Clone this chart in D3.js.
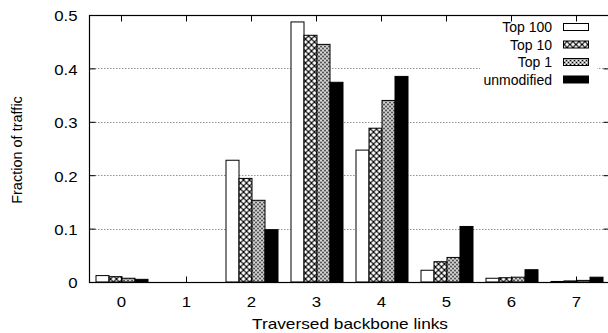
<!DOCTYPE html>
<html>
<head>
<meta charset="utf-8">
<script src="https://cdn.jsdelivr.net/npm/d3@7"></script>
<style>
  html, body { margin: 0; padding: 0; background: #fff; }
  svg { display: block; }
</style>
</head>
<body>
<script>
const categories = ["0", "1", "2", "3", "4", "5", "6", "7"];
const seriesNames = ["Top 100", "Top 10", "Top 1", "unmodified"];
const top100 = [0.012, 0, 0.228, 0.487, 0.247, 0.022, 0.007, 0.001];
const top10 = [0.010, 0, 0.194, 0.462, 0.288, 0.038, 0.008, 0.002];
const top1 = [0.007, 0, 0.153, 0.445, 0.340, 0.046, 0.009, 0.003];
const unmodified = [0.005, 0, 0.098, 0.374, 0.385, 0.104, 0.023, 0.009];
const yTicks = [0, 0.1, 0.2, 0.3, 0.4, 0.5];

const seriesValues = [top100, top10, top1, unmodified];
const fills = ["#ffffff", "url(#hatchTop10)", "url(#hatchTop1)", "#000000"];

const width = 608;
const height = 333;
const margin = { top: 15, right: -1, bottom: 51, left: 89 };
const font = "'Liberation Sans', Arial, Helvetica, sans-serif";

const svg = d3.select("body")
  .append("svg")
  .attr("width", width)
  .attr("height", height)
  .attr("viewBox", `0 0 ${width} ${height}`);

// fill patterns in the gnuplot style
const defs = svg.append("defs");
const p10 = defs.append("pattern")
  .attr("id", "hatchTop10")
  .attr("patternUnits", "userSpaceOnUse")
  .attr("width", 6)
  .attr("height", 6);
p10.append("rect").attr("width", 6).attr("height", 6).attr("fill", "#fff");
p10.append("path")
  .attr("d", "M0,0 L6,6 M6,0 L0,6")
  .attr("stroke", "#000")
  .attr("stroke-width", 1.2);

const p1 = defs.append("pattern")
  .attr("id", "hatchTop1")
  .attr("patternUnits", "userSpaceOnUse")
  .attr("width", 4)
  .attr("height", 4);
p1.append("rect").attr("width", 4).attr("height", 4).attr("fill", "#a8a8a8");
p1.append("rect").attr("x", 0).attr("y", 0).attr("width", 1).attr("height", 1).attr("fill", "#000");
p1.append("rect").attr("x", 2).attr("y", 2).attr("width", 1).attr("height", 1).attr("fill", "#000");
p1.append("rect").attr("x", 2).attr("y", 0).attr("width", 1).attr("height", 1).attr("fill", "#fff");
p1.append("rect").attr("x", 0).attr("y", 2).attr("width", 1).attr("height", 1).attr("fill", "#fff");

const x0 = d3.scaleBand()
  .domain(categories)
  .range([margin.left, width - margin.right])
  .paddingInner(0.2)
  .paddingOuter(0.1);

const x1 = d3.scaleBand()
  .domain(d3.range(seriesNames.length))
  .range([0, x0.bandwidth()]);

const y = d3.scaleLinear()
  .domain([0, 0.5])
  .range([height - margin.bottom, margin.top]);

const plotRight = width - margin.right;
const plotBottom = height - margin.bottom;

// grid
svg.append("g")
  .selectAll("line")
  .data(yTicks.filter((t) => t > 0 && t < 0.5))
  .join("line")
  .attr("x1", margin.left)
  .attr("x2", plotRight)
  .attr("y1", (d) => Math.round(y(d)) + 0.5)
  .attr("y2", (d) => Math.round(y(d)) + 0.5)
  .attr("stroke", "#777")
  .attr("stroke-width", 0.8)
  .attr("stroke-dasharray", "1.5,1.5");

// legend background hides the grid
svg.append("rect")
  .attr("x", 480)
  .attr("y", 18)
  .attr("width", 117)
  .attr("height", 70)
  .attr("fill", "#fff");

// bars
const groups = svg.append("g")
  .selectAll("g")
  .data(categories)
  .join("g")
  .attr("transform", (d) => `translate(${x0(d)},0)`);

groups.selectAll("rect")
  .data((d, i) => seriesValues.map((vals, s) => ({ s, v: vals[i] })))
  .join("rect")
  .attr("x", (d) => x1(d.s) + 0.5)
  .attr("y", (d) => y(d.v))
  .attr("width", x1.bandwidth())
  .attr("height", (d) => plotBottom - y(d.v))
  .attr("fill", (d) => fills[d.s])
  .attr("stroke", "#000")
  .attr("stroke-width", (d) => (d.v > 0 ? 1 : 0));

// frame
svg.append("rect")
  .attr("x", margin.left + 0.5)
  .attr("y", margin.top + 0.5)
  .attr("width", plotRight - margin.left)
  .attr("height", plotBottom - margin.top)
  .attr("fill", "none")
  .attr("stroke", "#000")
  .attr("stroke-width", 1.2);

// axes (the reference glyphs are a little wider than tall, hence scaleX)
const yAxis = svg.append("g")
  .attr("transform", `translate(${margin.left + 0.5},0)`)
  .call(d3.axisLeft(y).tickValues(yTicks).tickSize(-6).tickPadding(12)
    .tickFormat((d) => (d === 0 ? "0" : d3.format(".1f")(d))));
yAxis.select(".domain").remove();
yAxis.selectAll("text")
  .attr("font-family", font)
  .attr("font-size", 14)
  .attr("fill", "#000")
  .attr("x", -12 / 1.2)
  .attr("dy", "0.42em")
  .attr("transform", "scale(1.2,1)");

const yAxisR = svg.append("g")
  .attr("transform", `translate(${plotRight + 0.5},0)`)
  .call(d3.axisRight(y).tickValues(yTicks).tickSize(-6).tickFormat(""));
yAxisR.select(".domain").remove();

const xAxis = svg.append("g")
  .attr("transform", `translate(0,${plotBottom + 0.5})`)
  .call(d3.axisBottom(x0).tickSize(-6).tickPadding(15));
xAxis.select(".domain").remove();
xAxis.selectAll("text")
  .attr("font-family", font)
  .attr("font-size", 14)
  .attr("fill", "#000")
  .attr("transform", "scale(1.2,1)");

const xAxisTop = svg.append("g")
  .attr("transform", `translate(0,${margin.top + 0.5})`)
  .call(d3.axisTop(x0).tickSize(-6).tickFormat(""));
xAxisTop.select(".domain").remove();

// legend
const legend = svg.append("g")
  .selectAll("g")
  .data(seriesNames)
  .join("g")
  .attr("transform", (d, i) => `translate(0,${27 + i * 17.5})`);

legend.append("text")
  .attr("x", 552)
  .attr("y", 5)
  .attr("text-anchor", "end")
  .attr("font-family", font)
  .attr("font-size", 14)
  .text((d) => d);

legend.append("rect")
  .attr("x", 563.5)
  .attr("y", -3.5)
  .attr("width", 25)
  .attr("height", 7)
  .attr("fill", (d, i) => fills[i])
  .attr("stroke", "#000")
  .attr("stroke-width", 1);

// axis titles
svg.append("text")
  .attr("transform", "translate(22,150) rotate(-90)")
  .attr("text-anchor", "middle")
  .attr("font-family", font)
  .attr("font-size", 14.5)
  .text("Fraction of traffic");

svg.append("text")
  .attr("x", 350)
  .attr("y", 329)
  .attr("text-anchor", "middle")
  .attr("font-family", font)
  .attr("font-size", 15)
  .attr("textLength", 196)
  .attr("lengthAdjust", "spacingAndGlyphs")
  .text("Traversed backbone links");
</script>
</body>
</html>
